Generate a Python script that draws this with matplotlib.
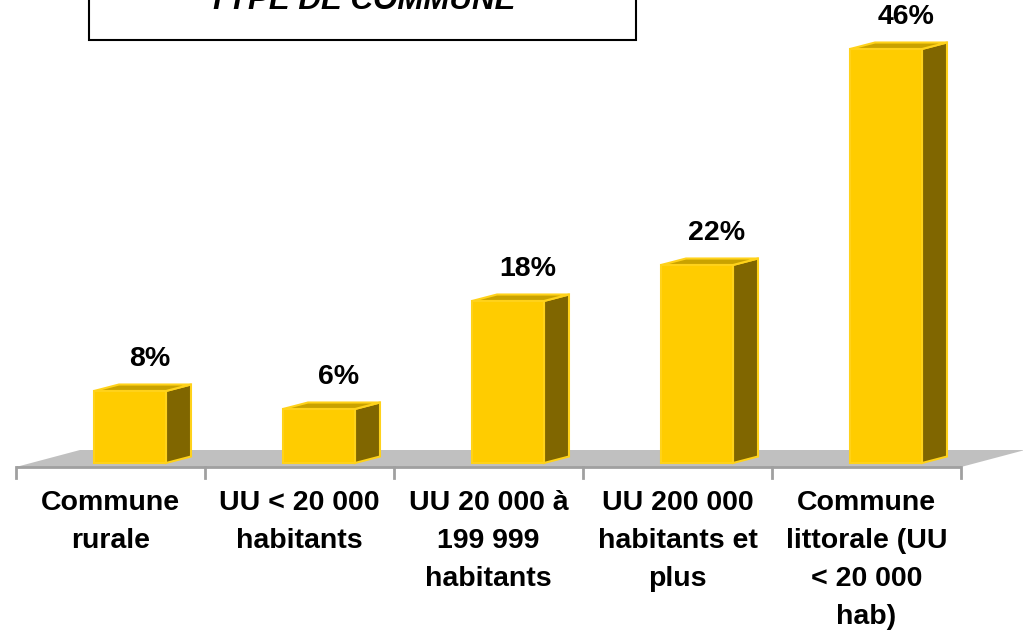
import matplotlib
matplotlib.use("Agg")
import matplotlib.pyplot as plt
from matplotlib.patches import Polygon, Rectangle

plt.rcParams['font.family'] = ['Liberation Sans', 'DejaVu Sans']

# data
categories = ["Commune\nrurale", "UU < 20 000\nhabitants", "UU 20 000 à\n199 999\nhabitants",
              "UU 200 000\nhabitants et\nplus", "Commune\nlittorale (UU\n< 20 000\nhab)"]
values = [8, 6, 18, 22, 46]
value_labels = ["8%", "6%", "18%", "22%", "46%"]
title = "TYPE DE COMMUNE"

W, H = 1023, 634
fig = plt.figure(figsize=(W / 100, H / 100), dpi=100)
ax = fig.add_axes([0, 0, 1, 1])
ax.axis("off")

# pixel scales
px_cat = 189.0   # pixels per category
px_pct = 9.0     # pixels per percent
x0_px = 110.5    # pixel x of first category centre
y0_px = 463.0    # pixel y of bar base
ax.set_xlim(-x0_px / px_cat, (W - x0_px) / px_cat)
ax.set_ylim(-(H - y0_px) / px_pct, y0_px / px_pct)

kx = 1 / px_cat
ky = 1 / px_pct

# floor
fy = -4 * ky
floor = Polygon([(-0.5, fy), (4.5, fy), (4.5 + 64 * kx, fy + 17 * ky), (-0.5 + 64 * kx, fy + 17 * ky)],
                closed=True, facecolor="#C0C0C0", edgecolor="none", zorder=1)
ax.add_patch(floor)
ax.plot([-0.5, 4.5], [fy, fy], color="#A0A0A0", lw=2, zorder=2, solid_capstyle="butt")
for t in range(6):
    ax.plot([t - 0.5, t - 0.5], [fy, fy - 11 * ky], color="#A0A0A0", lw=2, zorder=2)

# bars
w = 72 * kx
ox = 19.5 * kx
dx, dy = 25 * kx, 6.5 * ky
front_c, side_c, top_c, edge_c = "#FFCC00", "#806600", "#C9A200", "#FFD21A"
for i, v in enumerate(values):
    a = i - w / 2 + ox
    b = i + w / 2 + ox
    side = Polygon([(b, 0), (b + dx, dy), (b + dx, v + dy), (b, v)], closed=True,
                   facecolor=side_c, edgecolor=edge_c, lw=1.5, zorder=3)
    top = Polygon([(a, v), (b, v), (b + dx, v + dy), (a + dx, v + dy)], closed=True,
                  facecolor=top_c, edgecolor=edge_c, lw=1.5, zorder=3)
    front = Rectangle((a, 0), w, v, facecolor=front_c, edgecolor=edge_c, lw=1.5, zorder=4)
    ax.add_patch(side)
    ax.add_patch(top)
    ax.add_patch(front)
    ax.annotate(value_labels[i], xy=(i, v), xytext=(39.5, 25.5), textcoords="offset pixels",
                ha="center", va="baseline", fontsize=20.5, fontweight="bold", zorder=5)

# category labels
for i, c in enumerate(categories):
    ax.text(i, -(490 - y0_px) * ky, c, ha="center", va="top", fontsize=20.5,
            fontweight="bold", linespacing=1.6, zorder=5)

# title box (cut at top of figure, as in the source)
ax.add_patch(Rectangle((89 / W, 1 - 40 / H), (636 - 89) / W, 60 / H, transform=ax.transAxes,
                       facecolor="white", edgecolor="black", lw=1.5, clip_on=False, zorder=6))
ax.text(362 / W, 1 - 9 / H, title, transform=ax.transAxes, ha="center", va="baseline",
        fontsize=22.5, fontweight="bold", fontstyle="italic", zorder=7)

fig.savefig("out.png", dpi=100)
